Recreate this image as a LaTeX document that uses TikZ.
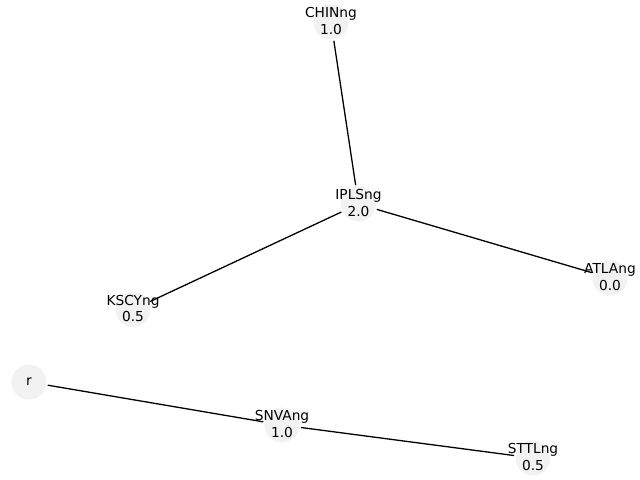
\documentclass[tikz,border=0pt]{standalone}
\usepackage{fontspec}
\setmainfont{DejaVu Sans}
\definecolor{nodefill}{RGB}{242,242,242}
\begin{document}
\begin{tikzpicture}[x=1bp,y=-1bp,
  vert/.style={circle,fill=nodefill,draw=none,minimum size=35bp,inner sep=0pt,outer sep=1.5bp},
  vlabel/.style={align=center,font=\fontsize{13.8}{16.5}\selectfont,inner sep=0pt},
  edge/.style={draw=black,line width=1.3bp}]
\useasboundingbox (0,0) rectangle (640,480);
\fill[white] (0,0) rectangle (640,480);
% nodes (circles)
\node[vert] (CHIN) at (331,22) {};
\node[vert] (IPLS) at (358.5,204) {};
\node[vert] (KSCY) at (133,309.5) {};
\node[vert] (ATLA) at (610,278) {};
\node[vert] (R) at (29,382) {};
\node[vert] (SNVA) at (282,425) {};
\node[vert] (STTL) at (533,458) {};
% edges
\draw[edge] (CHIN) -- (IPLS);
\draw[edge] (IPLS) -- (KSCY);
\draw[edge] (IPLS) -- (ATLA);
\draw[edge] (R) -- (SNVA);
\draw[edge] (SNVA) -- (STTL);
% labels
\node[vlabel] (tCHIN) at ([yshift=0.8bp]CHIN.center) {CHINng\\1.0};
\node[vlabel] (tIPLS) at ([yshift=0.8bp]IPLS.center) {IPLSng\\2.0};
\node[vlabel] (tKSCY) at ([yshift=0.8bp]KSCY.center) {KSCYng\\0.5};
\node[vlabel] (tATLA) at ([yshift=0.8bp]ATLA.center) {ATLAng\\0.0};
\node[vlabel] (tR) at (R.center) {r};
\node[vlabel] (tSNVA) at ([yshift=0.8bp]SNVA.center) {SNVAng\\1.0};
\node[vlabel] (tSTTL) at ([yshift=0.8bp]STTL.center) {STTLng\\0.5};
\end{tikzpicture}
\end{document}
